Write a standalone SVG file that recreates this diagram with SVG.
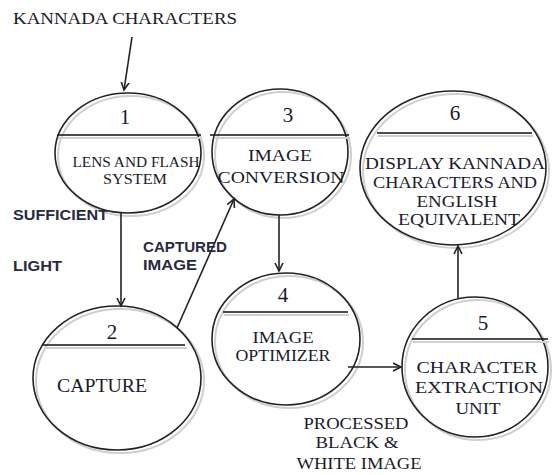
<svg xmlns="http://www.w3.org/2000/svg" width="555" height="475" viewBox="0 0 555 475">
<defs>
<style>
.sh{fill:none;stroke:#cfcfcf;stroke-width:2}
.el{fill:none;stroke:#222;stroke-width:1.6}
.dv{stroke:#111;stroke-width:1.6}
.dvs{stroke:#cfcfcf;stroke-width:2}
.t{font-family:"Liberation Serif","Times New Roman",serif;font-size:17px;fill:#1a1a2e;text-anchor:middle}
.n{font-family:"Liberation Serif","Times New Roman",serif;font-size:21px;fill:#1a1a2e;text-anchor:middle}
.s{font-family:"Liberation Sans",Arial,sans-serif;font-size:14px;font-weight:bold;fill:#2a2a3e}
.c{stroke:#222;stroke-width:1.6;fill:none;marker-end:url(#ah)}
</style>
<marker id="ah" markerWidth="10" markerHeight="10" refX="8" refY="5" orient="auto" markerUnits="userSpaceOnUse">
<path d="M0,1 L8,5 L0,9" fill="none" stroke="#222" stroke-width="1.6"/>
</marker>
</defs>
<rect width="555" height="475" fill="#fff"/>

<g id="node1">
<ellipse class="sh" cx="131" cy="156" rx="73" ry="60"/>
<ellipse class="el" cx="128" cy="153" rx="73" ry="60"/>
<line class="dvs" x1="58" y1="138" x2="202" y2="138"/>
<line class="dv" x1="57" y1="135" x2="201" y2="135"/>
<text class="n" x="125" y="124">1</text>
<text class="t" x="136" y="167" style="font-size:15px" textLength="127" lengthAdjust="spacingAndGlyphs">LENS AND FLASH</text>
<text class="t" x="135" y="184" style="font-size:15px" textLength="64" lengthAdjust="spacingAndGlyphs">SYSTEM</text>
</g>

<g id="node3">
<ellipse class="sh" cx="283" cy="155" rx="68" ry="63"/>
<ellipse class="el" cx="280" cy="152" rx="68" ry="63"/>
<line class="dvs" x1="214" y1="138" x2="350" y2="138"/>
<line class="dv" x1="210" y1="135" x2="349" y2="135"/>
<text class="n" x="288" y="122">3</text>
<text class="t" x="280" y="161" textLength="64" lengthAdjust="spacingAndGlyphs">IMAGE</text>
<text class="t" x="281" y="183" textLength="127" lengthAdjust="spacingAndGlyphs">CONVERSION</text>
</g>

<g id="node6">
<ellipse class="sh" cx="456" cy="171" rx="93" ry="77"/>
<ellipse class="el" cx="453" cy="168" rx="93" ry="77"/>
<line class="dvs" x1="378" y1="136" x2="533" y2="136"/>
<line class="dv" x1="377" y1="133" x2="532" y2="133"/>
<text class="n" x="455" y="120">6</text>
<text class="t" x="455" y="169" textLength="180" lengthAdjust="spacingAndGlyphs">DISPLAY KANNADA</text>
<text class="t" x="455" y="188" textLength="164" lengthAdjust="spacingAndGlyphs">CHARACTERS AND</text>
<text class="t" x="457" y="207" textLength="81" lengthAdjust="spacingAndGlyphs">ENGLISH</text>
<text class="t" x="459" y="225" textLength="122" lengthAdjust="spacingAndGlyphs">EQUIVALENT</text>
</g>

<g id="node2">
<ellipse class="sh" cx="120" cy="381" rx="84" ry="72"/>
<ellipse class="el" cx="117" cy="378" rx="84" ry="72"/>
<line class="dvs" x1="44" y1="348" x2="187" y2="348"/>
<line class="dv" x1="43" y1="345" x2="185" y2="345"/>
<text class="n" x="112" y="339">2</text>
<text class="t" x="102" y="392" style="font-size:18px" textLength="90" lengthAdjust="spacingAndGlyphs">CAPTURE</text>
</g>

<g id="node4">
<ellipse class="sh" cx="289" cy="342" rx="74" ry="66"/>
<ellipse class="el" cx="286" cy="339" rx="74" ry="66"/>
<line class="dvs" x1="224" y1="315" x2="349" y2="315"/>
<line class="dv" x1="223" y1="312" x2="348" y2="312"/>
<text class="n" x="283" y="302">4</text>
<text class="t" x="283" y="343" textLength="61" lengthAdjust="spacingAndGlyphs">IMAGE</text>
<text class="t" x="283" y="361" textLength="95" lengthAdjust="spacingAndGlyphs">OPTIMIZER</text>
</g>

<g id="node5">
<ellipse class="sh" cx="478" cy="370" rx="73" ry="70"/>
<ellipse class="el" cx="475" cy="367" rx="73" ry="70"/>
<line class="dvs" x1="413" y1="342" x2="549" y2="342"/>
<line class="dv" x1="412" y1="339" x2="548" y2="339"/>
<text class="n" x="483" y="330">5</text>
<text class="t" x="477" y="373" textLength="121" lengthAdjust="spacingAndGlyphs">CHARACTER</text>
<text class="t" x="479" y="393" textLength="128" lengthAdjust="spacingAndGlyphs">EXTRACTION</text>
<text class="t" x="478" y="414" textLength="45" lengthAdjust="spacingAndGlyphs">UNIT</text>
</g>

<g id="connectors">
<line class="c" x1="132" y1="37" x2="124" y2="90"/>
<line class="c" x1="121" y1="212" x2="121" y2="306"/>
<line class="c" x1="177" y1="328" x2="234" y2="199"/>
<line class="c" x1="279" y1="215" x2="279" y2="271"/>
<line class="c" x1="348" y1="367" x2="401" y2="367"/>
<line class="c" x1="458" y1="298" x2="458" y2="246"/>
</g>

<g id="labels">
<text class="t" x="125" y="24" style="font-size:16px" textLength="224" lengthAdjust="spacingAndGlyphs">KANNADA CHARACTERS</text>
<text class="s" x="13" y="220" textLength="95" lengthAdjust="spacingAndGlyphs">SUFFICIENT</text>
<text class="s" x="13" y="271" textLength="49" lengthAdjust="spacingAndGlyphs">LIGHT</text>
<text class="s" x="143" y="252" textLength="84" lengthAdjust="spacingAndGlyphs">CAPTURED</text>
<text class="s" x="143" y="270" textLength="54" lengthAdjust="spacingAndGlyphs">IMAGE</text>
<text class="t" x="356" y="429" textLength="105" lengthAdjust="spacingAndGlyphs">PROCESSED</text>
<text class="t" x="357" y="448" textLength="83" lengthAdjust="spacingAndGlyphs">BLACK &amp;</text>
<text class="t" x="359" y="469" textLength="125" lengthAdjust="spacingAndGlyphs">WHITE IMAGE</text>
</g>
</svg>
